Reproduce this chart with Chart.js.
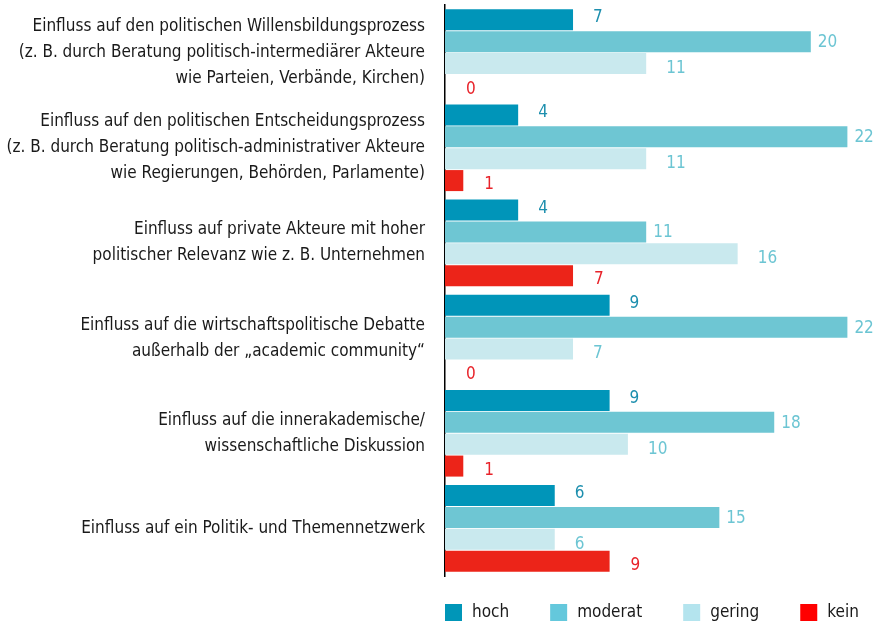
<!DOCTYPE html>
<html>
<head>
<meta charset="utf-8">
<script src="https://cdn.jsdelivr.net/npm/chart.js@4/dist/chart.umd.min.js"></script>
<style>
  html, body { margin: 0; padding: 0; background: #fff; }
</style>
</head>
<body>
<canvas id="chart" width="873" height="623"></canvas>
<script>
const categories = [
  ['Einfluss auf den politischen Willensbildungsprozess', '(z. B. durch Beratung politisch-intermediärer Akteure', 'wie Parteien, Verbände, Kirchen)'],
  ['Einfluss auf den politischen Entscheidungsprozess', '(z. B. durch Beratung politisch-administrativer Akteure', 'wie Regierungen, Behörden, Parlamente)'],
  ['Einfluss auf private Akteure mit hoher', 'politischer Relevanz wie z. B. Unternehmen'],
  ['Einfluss auf die wirtschaftspolitische Debatte', 'außerhalb der „academic community“'],
  ['Einfluss auf die innerakademische/', 'wissenschaftliche Diskussion'],
  ['Einfluss auf ein Politik- und Themennetzwerk']
];
const hoch    = [7, 4, 4, 9, 9, 6];
const moderat = [20, 22, 11, 22, 18, 15];
const gering  = [11, 11, 16, 7, 10, 6];
const kein    = [0, 1, 7, 0, 1, 9];

const FONT = '"Liberation Sans Narrow", "DejaVu Sans Condensed", sans-serif';

// dx/dy: where the value label sits relative to the bar end
const series = [
  { label: 'hoch',    data: hoch,    color: '#0095b9', text: '#1d8fae', legend: '#0096b8', dx: 20, dy: -3 },
  { label: 'moderat', data: moderat, color: '#6ec6d3', text: '#6cc5d3', legend: '#64c8dc', dx: 7,  dy: 0 },
  { label: 'gering',  data: gering,  color: '#c9e9ee', text: '#6cc5d3', legend: '#b4e4ee', dx: 20, dy: 4 },
  { label: 'kein',    data: kein,    color: '#ec2419', text: '#e8232a', legend: '#ff0000', dx: 21, dy: 3 }
];

const valueLabels = {
  id: 'valueLabels',
  afterDatasetsDraw(chart) {
    const ctx = chart.ctx;
    ctx.save();
    ctx.font = '17px ' + FONT;
    ctx.textAlign = 'left';
    ctx.textBaseline = 'middle';
    chart.data.datasets.forEach((ds, i) => {
      const s = series[i];
      chart.getDatasetMeta(i).data.forEach((bar, j) => {
        ctx.fillStyle = s.text;
        ctx.fillText(String(ds.data[j]), bar.x + s.dx, bar.y + s.dy + 1);
      });
    });
    ctx.restore();
  }
};

const bottomLegend = {
  id: 'bottomLegend',
  afterDraw(chart) {
    const ctx = chart.ctx;
    ctx.save();
    ctx.font = '17px ' + FONT;
    ctx.textBaseline = 'middle';
    ctx.textAlign = 'left';
    let x = chart.chartArea.left;
    const y = 612;
    series.forEach(s => {
      ctx.fillStyle = s.legend;
      ctx.fillRect(x, y - 8, 17, 17);
      x += 27;
      ctx.fillStyle = '#1a1a1a';
      ctx.fillText(s.label, x, y + 1);
      x += ctx.measureText(s.label).width + 41;
    });
    ctx.restore();
  }
};

new Chart(document.getElementById('chart'), {
  type: 'bar',
  data: {
    labels: categories,
    datasets: series.map(s => ({
      label: s.label,
      data: s.data,
      backgroundColor: s.color,
      barPercentage: 0.96,
      categoryPercentage: 0.92
    }))
  },
  options: {
    indexAxis: 'y',
    responsive: false,
    animation: false,
    layout: { padding: { top: 5, bottom: 47, left: 0, right: 0 } },
    plugins: {
      legend: { display: false },
      tooltip: { enabled: false }
    },
    scales: {
      x: {
        display: false,
        min: 0,
        max: 23.4
      },
      y: {
        grid: { display: false },
        border: { display: true, color: '#000', width: 1.5 },
        ticks: {
          color: '#1a1a1a',
          padding: 12,
          font: { family: FONT, size: 17, lineHeight: 1.53 }
        },
        afterFit(scale) {
          scale.width = 445;
          scale.paddingTop = 0;
          scale.paddingBottom = 0;
        }
      }
    }
  },
  plugins: [valueLabels, bottomLegend]
});
</script>
</body>
</html>
